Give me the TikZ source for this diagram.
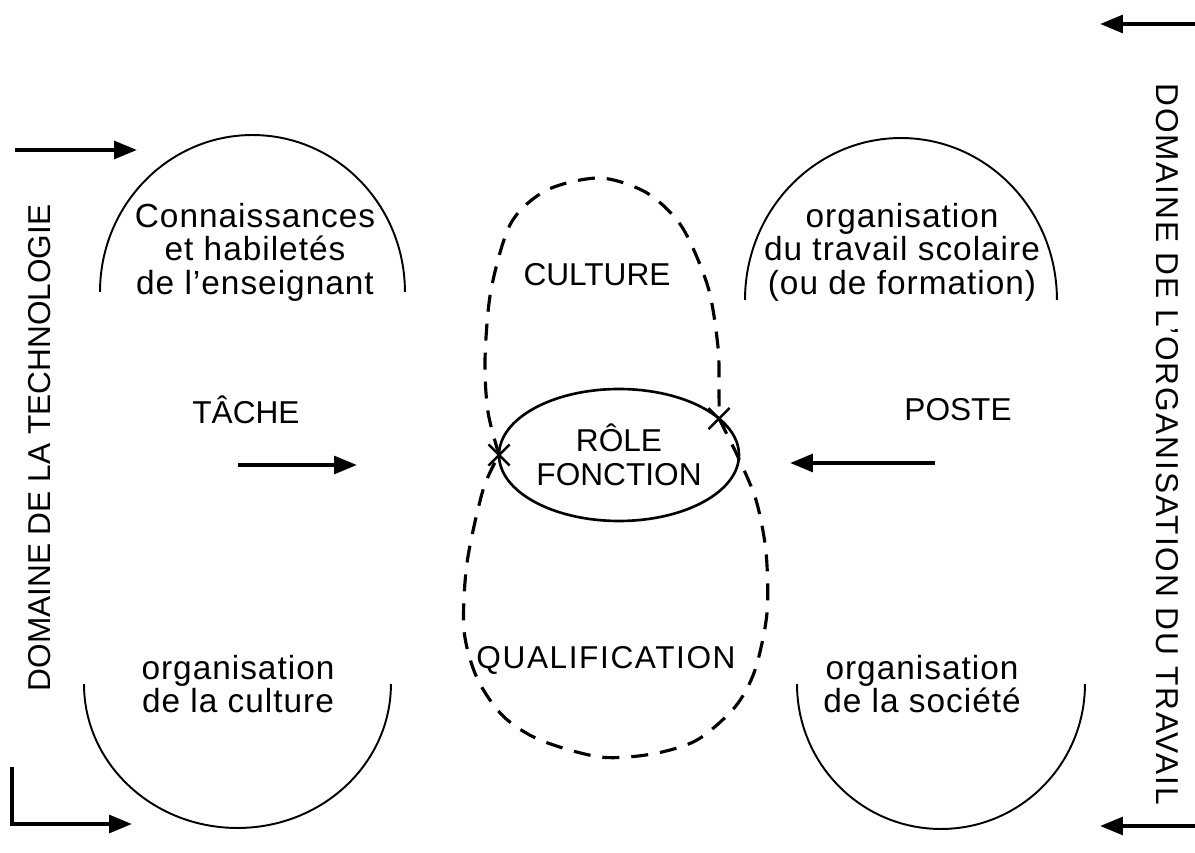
\documentclass[tikz,border=0pt]{standalone}
\usepackage{fontspec}
\setmainfont{Liberation Sans}
\usetikzlibrary{arrows.meta,shapes.geometric,shapes.misc,positioning}

\begin{document}
\begin{tikzpicture}[
                        x=0.02cm, y=0.02cm,
                        >={Triangle[length=13pt,width=10pt]},
                        every node/.style={font=\fontsize{18}{19}\selectfont, align=center},
                        block/.style={font=\fontsize{19}{19}\selectfont\addfontfeature{LetterSpace=3}},
                        big/.style={->, line width=2.2pt},
                        bowl/.style={line width=1.1pt},
                        loop/.style={line width=1.8pt, dash pattern=on 0.34cm off 0.24cm},
                        xmark/.style={cross out, draw, line width=1.4pt, minimum size=12pt, inner sep=0pt, outer sep=0pt}
                    ]
                    \useasboundingbox (0,0) rectangle (1195,852);

                    % Domaines
                    \node [rotate=90] (techno) at (40,404) {DOMAINE DE LA TECHNOLOGIE};
                    \node [rotate=-90, font=\fontsize{18}{19}\selectfont\addfontfeature{LetterSpace=6}] (travail) at (1167,408) {DOMAINE DE L’ORGANISATION DU TRAVAIL};

                    % Arcs
                    \draw [bowl] (100,560) arc[start angle=180, end angle=0, x radius=3.05cm, y radius=3.14cm];
                    \draw [bowl] (745,552) arc[start angle=180, end angle=0, x radius=3.12cm, y radius=3.24cm];
                    \draw [bowl] (84,168) arc[start angle=180, end angle=360, x radius=3.07cm, y radius=2.88cm];
                    \draw [bowl] (797,168) arc[start angle=180, end angle=360, x radius=2.88cm, y radius=2.9cm];

                    % Blocks
                    \node [block] (savoir) at (255,600) {Connaissances\\et habiletés\\de l’enseignant};
                    \node [block] (scolaire) at (902,600) {organisation\\du travail scolaire\\(ou de formation)};
                    \node [block] (orgculture) at (238,168) {organisation\\de la culture};
                    \node [block] (societe) at (922,168) {organisation\\de la société};
                    \node (tache) at (246,442) {TÂCHE};
                    \node (poste) at (958,442) {POSTE};
                    \node [ellipse, draw, line width=1.5pt, minimum width=4.8cm, minimum height=2.64cm, inner sep=0pt, outer sep=0pt] (role) at (619,397) {RÔLE\\FONCTION};
                    \node (culture) at (597,577) {CULTURE};
                    \node [font=\fontsize{18}{19}\selectfont\addfontfeature{LetterSpace=5}] (qualif) at (606,192) {QUALIFICATION};
                    \node [xmark] (xl) at (role.180) {};
                    \node [xmark] (xr) at (role.20) {};

                    % Dashed loops
                    \draw [loop] plot[smooth] coordinates {(xl.center) (488,440) (485,492) (491,562) (511,629) (547,662) (600,674) (647,659) (682,625) (708,565) (718,505) (719,462) (xr.center)};
                    \draw [loop] plot[smooth] coordinates {(xr.center) (738,395) (756,352) (766,300) (767,239) (755,182) (735,145) (697,112) (652,98) (600,95) (540,112) (503,136) (477,174) (464,222) (467,289) (483,362) (xl.center)};

                    % Connections
                    \coordinate (ta) at (238,387);
                    \coordinate (tb) at (357,387);
                    \coordinate (pa) at (935,389);
                    \coordinate (pb) at (790,389);
                    \coordinate (hl) at (15,702);
                    \coordinate (hr) at (137,702);
                    \coordinate (ll) at (12,85);
                    \coordinate (lr) at (132,28);
                    \coordinate (rt) at (1195,828);
                    \coordinate (rtt) at (1100,828);
                    \coordinate (rb) at (1195,26);
                    \coordinate (rbt) at (1100,26);
                    \draw [big] (ta) -- (tb);
                    \draw [big] (pa) -- (pb);
                    \draw [big] (hl) -- (hr);
                    \draw [big] (ll) |- (lr);
                    \draw [big] (rt) -- (rtt);
                    \draw [big] (rb) -- (rbt);
                \end{tikzpicture}
\end{document}
